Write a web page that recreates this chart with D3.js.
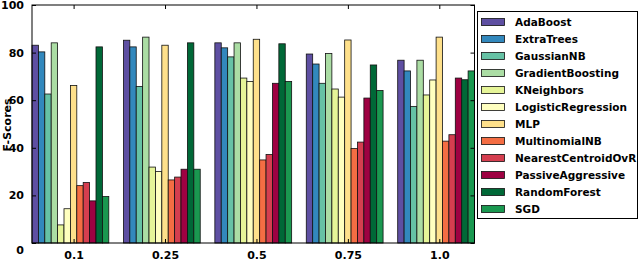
<!DOCTYPE html>
<html><head><meta charset="utf-8">
<script src="https://cdn.jsdelivr.net/npm/d3@7"></script>
<style>body{margin:0;background:#fff}svg{display:block}text{font-family:"DejaVu Sans",sans-serif;font-weight:bold}</style>
</head><body><svg id="c" width="640" height="260"></svg>
<script>
const groups = ["0.1", "0.25", "0.5", "0.75", "1.0"];
const models = ["AdaBoost","ExtraTrees","GaussianNB","GradientBoosting","KNeighbors","LogisticRegression","MLP","MultinomialNB","NearestCentroidOvR","PassiveAggressive","RandomForest","SGD"];
const colors = ["#5e4fa2","#3288bd","#66c2a5","#abdda4","#e6f598","#ffffbf","#fee08b","#f46d43","#d53e4f","#9e0142","#006837","#1a9850"];
const AdaBoost = [83.1, 85.2, 84.1, 79.4, 76.8];
const ExtraTrees = [80.3, 82.4, 82.0, 75.2, 72.3];
const GaussianNB = [62.6, 65.8, 78.2, 67.1, 57.4];
const GradientBoosting = [84.1, 86.5, 84.1, 79.6, 76.8];
const KNeighbors = [7.6, 31.9, 69.3, 64.7, 62.2];
const LogisticRegression = [14.4, 30.0, 67.9, 61.3, 68.5];
const MLP = [66.2, 83.1, 85.6, 85.3, 86.5];
const MultinomialNB = [24.1, 26.5, 34.9, 39.7, 42.8];
const NearestCentroidOvR = [25.4, 27.7, 37.2, 42.4, 45.5];
const PassiveAggressive = [17.7, 31.0, 67.1, 60.9, 69.3];
const RandomForest = [82.4, 84.1, 83.7, 74.8, 68.6];
const SGD = [19.5, 31.0, 67.9, 64.1, 72.3];
const yTicks = [0, 20, 40, 60, 80, 100];
const series = [AdaBoost, ExtraTrees, GaussianNB, GradientBoosting, KNeighbors, LogisticRegression, MLP, MultinomialNB, NearestCentroidOvR, PassiveAggressive, RandomForest, SGD];

const svg = d3.select("#c");
const L = 32, R = 474.5, T = 5, B = 243;
const bw = 0.07;
const x = d3.scaleLinear().domain([0, 4 + 12 * bw]).range([L, R]);
const y = d3.scaleLinear().domain([0, 100]).range([B, T]);

const bars = [];
series.forEach((s, i) => s.forEach((v, g) => bars.push({g, i, v})));
svg.append("g").selectAll("rect").data(bars).join("rect")
  .attr("x", d => x(d.g + d.i * bw))
  .attr("width", d => x(bw) - x(0))
  .attr("y", d => y(d.v))
  .attr("height", d => y(0) - y(d.v))
  .attr("fill", d => colors[d.i])
  .attr("stroke", "#111").attr("stroke-width", 0.8);

const tickPos = groups.map((_, g) => g + 6.5 * bw);
svg.append("rect").attr("x", L).attr("y", T).attr("width", R - L).attr("height", B - T)
  .attr("fill", "none").attr("stroke", "#000").attr("stroke-width", 1);

const yl = svg.append("g").attr("transform", `translate(${L},0)`)
  .call(d3.axisLeft(y).tickValues(yTicks).tickSize(-4).tickPadding(8));
yl.select(".domain").remove();
yl.selectAll("text").attr("font-size", 11).attr("fill", "#000")
  .attr("dy", d => d === 0 ? "0.95em" : "0.32em");
yl.selectAll("line").attr("stroke", "#000");
const yr = svg.append("g").attr("transform", `translate(${R},0)`)
  .call(d3.axisRight(y).tickValues(yTicks).tickSize(-4).tickFormat(""));
yr.select(".domain").remove();
yr.selectAll("line").attr("stroke", "#000");

const xb = svg.append("g").attr("transform", `translate(0,${B})`)
  .call(d3.axisBottom(x).tickValues(tickPos).tickSize(-4).tickFormat((d, i) => groups[i]));
xb.select(".domain").remove();
xb.selectAll("text").attr("font-size", 11).attr("fill", "#000").attr("y", 15.5).attr("dy", 0);
xb.selectAll("line").attr("stroke", "#000");
const xt = svg.append("g").attr("transform", `translate(0,${T})`)
  .call(d3.axisTop(x).tickValues(tickPos).tickSize(-4).tickFormat(""));
xt.select(".domain").remove();
xt.selectAll("line").attr("stroke", "#000");

svg.append("text").attr("transform", "translate(11,125) rotate(-90)")
  .attr("text-anchor", "middle").attr("font-size", 11).text("F-Scores");

const lg = svg.append("g");
lg.append("rect").attr("x", 477.5).attr("y", 11.5).attr("width", 160).attr("height", 207)
  .attr("fill", "#fff").attr("stroke", "#000").attr("stroke-width", 1);
models.forEach((m, i) => {
  const cy = 22 + i * 17;
  lg.append("rect").attr("x", 481.5).attr("y", cy - 3.5).attr("width", 23).attr("height", 7)
    .attr("fill", colors[i]).attr("stroke", "#111").attr("stroke-width", 0.8);
  lg.append("text").attr("x", 515).attr("y", cy).attr("dy", "0.35em")
    .attr("font-size", 10.5).text(m);
});
</script></body></html>
